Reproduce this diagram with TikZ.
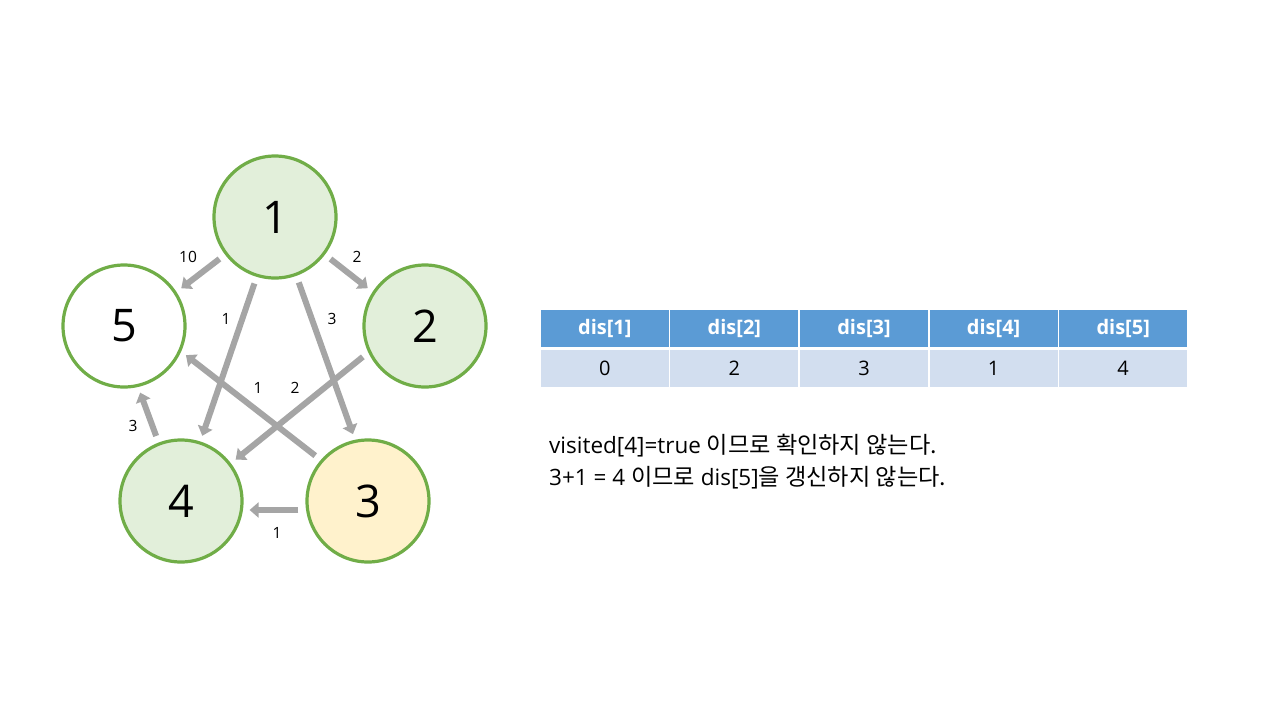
\documentclass[tikz,border=0pt]{standalone}
\usepackage{fontspec}
\setmainfont{Open Sans}
\newfontfamily\kr[Scale=1.03]{Noto Sans CJK KR}
\usetikzlibrary{arrows.meta,positioning}
\definecolor{nodegreen}{RGB}{112,173,71}
\definecolor{lightgreen}{RGB}{226,239,218}
\definecolor{lightyellow}{RGB}{255,242,204}
\definecolor{edgegray}{RGB}{165,165,165}
\definecolor{headblue}{RGB}{91,155,213}
\definecolor{cellblue}{RGB}{210,222,239}

\begin{document}
\begin{tikzpicture}[x=1pt, y=-1pt,
    vertex/.style={circle, draw=nodegreen, line width=3.2pt, minimum size=122pt, inner sep=0pt, font=\fontsize{45}{45}\selectfont},
    edge/.style={draw=edgegray, line width=6pt, -{Triangle[length=9pt,width=15pt]}, shorten <=7pt, shorten >=6pt},
    weight/.style={inner sep=0pt, font=\fontsize{15.5}{15.5}\selectfont},
    headcell/.style={fill=headblue, draw=white, line width=1.5pt, minimum width=129.6pt, minimum height=38pt, text=white, font=\fontsize{20}{20}\selectfont\bfseries},
    valcell/.style={fill=cellblue, draw=white, line width=1.5pt, minimum width=129.6pt, minimum height=38pt, font=\fontsize{20}{20}\selectfont},
    note/.style={anchor=base west, inner sep=0pt, font=\fontsize{22.5}{22.5}\selectfont}]
        \useasboundingbox[fill=white] (0,0) rectangle (1280,720);
        % graph
        \node[vertex, fill=lightgreen] (n1) at (275,217) {1};
        \node[vertex, fill=lightgreen] (n2) at (425,326) {2};
        \node[vertex, fill=lightyellow] (n3) at (368,501) {3};
        \node[vertex, fill=lightgreen] (n4) at (181,501) {4};
        \node[vertex, fill=white] (n5) at (124,326) {5};
        \foreach \from/\a/\to/\b in {n1/217/n5/33, n1/323/n2/147, n1/253/n4/72, n1/290/n3/102,
                n2/205/n4/37, n3/139/n5/336, n4/111/n5/283}
            \draw[edge] (\from.\a) -- (\to.\b);
        \draw[edge] ([yshift=-9pt]n3.west) -- ([yshift=-9pt]n4.east);
        \node[weight] (w15) at (188,257) {10};
        \node[weight] (w12) at (357,257) {2};
        \node[weight] (w14) at (226,319) {1};
        \node[weight] (w13) at (332,319) {3};
        \node[weight] (w35) at (258,388) {1};
        \node[weight] (w24) at (295,388) {2};
        \node[weight] (w45) at (133,426) {3};
        \node[weight] (w34) at (277,533) {1};
        % table
        \foreach \i/\v in {1/0, 2/2, 3/3, 4/1, 5/4} {
            \node[headcell] (h\i) at ({540+129.6*(\i-0.5)},328.5) {dis[\i]};
            \node[valcell] (v\i) at ({540+129.6*(\i-0.5)},368.5) {\v};
        }
        \node[note] (line1) at (549,453) {visited[4]=true {\kr 이므로 확인하지 않는다.}};
        \node[note] (line2) at (549,485) {3+1 = 4 {\kr 이므로} dis[5]{\kr 을 갱신하지 않는다.}};
    \end{tikzpicture}
\end{document}
